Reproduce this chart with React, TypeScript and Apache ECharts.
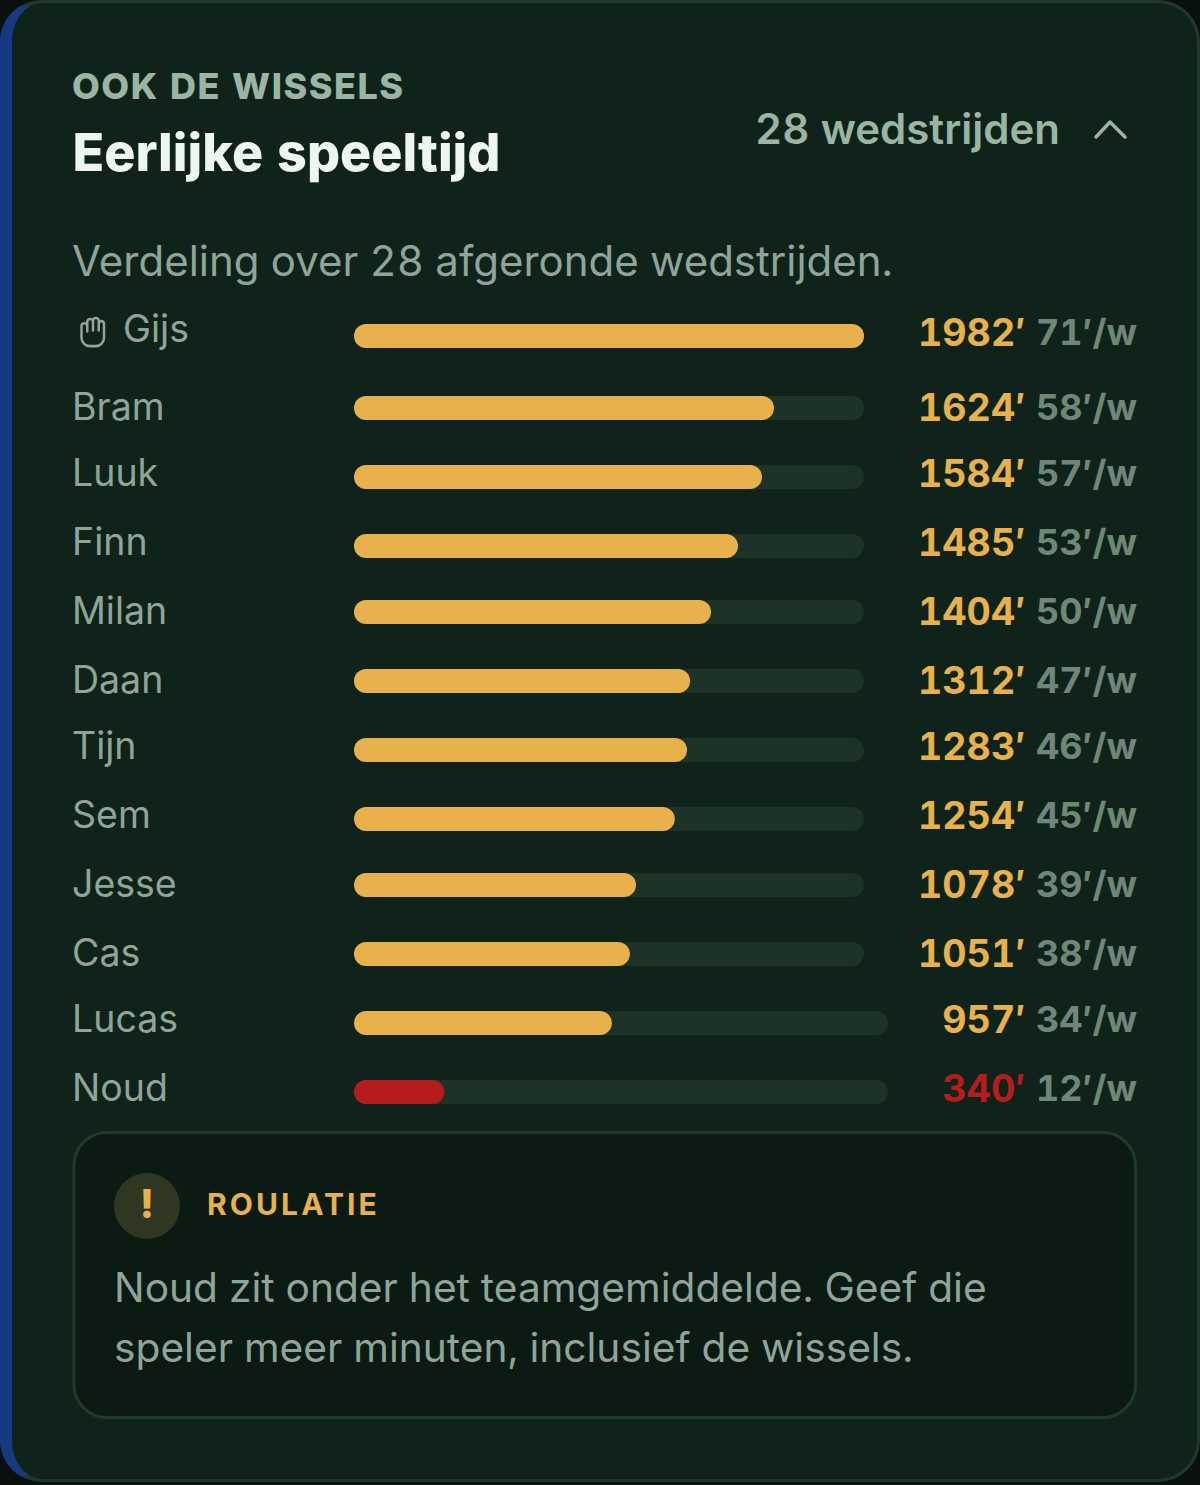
import React, { useEffect, useRef } from "react";
import * as echarts from "echarts";

const players = ["Gijs", "Bram", "Luuk", "Finn", "Milan", "Daan", "Tijn", "Sem", "Jesse", "Cas", "Lucas", "Noud"];
const minutes = [1982, 1624, 1584, 1485, 1404, 1312, 1283, 1254, 1078, 1051, 957, 340];
const perMatch = [71, 58, 57, 53, 50, 47, 46, 45, 39, 38, 34, 12];
// Bar fill as a share of its track, in percent.
const barShares = [100, 82.35, 80, 75.3, 70, 65.9, 65.3, 62.9, 55.3, 54.1, 48.3, 16.9];

const rowTops = [324, 396, 465, 534, 600, 669, 738, 807, 873, 942, 1011, 1080];
const trackWidths = [510, 510, 510, 510, 510, 510, 510, 510, 510, 510, 534, 534];
const nameLift = [7.5, 2, 5, 5, 2, 2, 5, 5, 2, 2, 5, 4.5];
const valueShift = [8, 11, 8, 8, 11, 11, 8, 8, 11, 11, 8, 8];

const GOLD = "#e8b14c";
const RED = "#b71c1c";
const TRACK = "#1e3328";
const CARD = "#10231a";
const BORDER = "#1f3a2c";
const MUTED = "#8fa59a";
const SAGE = "#9ab5a4";
const FONT = "Inter";

echarts.graphic.registerShape("cardInner", echarts.graphic.extendPath("M42 3H1158A39 39 0 0 1 1197 42V1440A39 39 0 0 1 1158 1479H42A30 39 0 0 1 12 1440V42A30 39 0 0 1 42 3Z", {}) as any);
echarts.graphic.registerShape("cardBlue", echarts.graphic.extendPath("M21.46 5.36A42 42 0 0 0 0 42V1440A42 42 0 0 0 21.46 1476.64L28.6 1474.85A30 39 0 0 1 12 1440V42A30 39 0 0 1 28.6 7.15Z", {}) as any);
echarts.graphic.registerShape("glove", echarts.graphic.extendPath("M1.5 19V8.5a2.9 2.9 0 0 1 5.75 0V14M7.25 13V4.5a2.9 2.9 0 0 1 5.75 0V13M13 13V3.5a2.9 2.9 0 0 1 5.75 0V13M18.75 13V6a2.7 2.7 0 0 1 5.25 0V20a8 8 0 0 1-8 8H9.5a8 8 0 0 1-8-8V19", {}) as any);

const buildOption = () => {
  const grids = players.map((_, i) => ({ left: 354, top: rowTops[i], width: trackWidths[i], height: 24, containLabel: false }));
  const xAxes = players.map((_, i) => ({ type: "value", gridIndex: i, min: 0, max: 100, show: false }));
  const yAxes = players.map((p, i) => ({
    type: "category",
    gridIndex: i,
    data: [p],
    axisLine: { show: false },
    axisTick: { show: false },
    axisLabel: {
      show: true,
      align: "left",
      verticalAlign: "bottom",
      lineHeight: nameLift[i] * 2,
      margin: i === 0 ? 231 : 282,
      color: MUTED,
      fontFamily: FONT,
      fontSize: 37.5,
    },
  }));
  const series = players.map((p, i) => ({
    type: "bar",
    name: p,
    xAxisIndex: i,
    yAxisIndex: i,
    data: [barShares[i]],
    barWidth: 24,
    showBackground: true,
    backgroundStyle: { color: TRACK, borderRadius: 12 },
    itemStyle: { color: minutes[i] < 500 ? RED : GOLD, borderRadius: 12 },
    silent: true,
  }));
  const T = (text: string, x: number, y: number, fontSize: number, fontWeight: any, fill: string, extra: any = {}) => ({
    type: "text",
    x,
    y,
    style: { text, fontFamily: FONT, fontSize, fontWeight, fill, textVerticalAlign: "middle", textAlign: "left", ...extra },
    z: 20,
  });
  const rowLabels: any[] = [];
  players.forEach((_, i) => {
    const y = rowTops[i] + valueShift[i];
    rowLabels.push(T(`${perMatch[i]}′/w`, 1137, y, 36, 700, "#6f8779", { textAlign: "right" }));
    rowLabels.push(T(`${minutes[i]}′`, 1025.5, y, 37.6, 700, minutes[i] < 500 ? RED : GOLD, { textAlign: "right" }));
  });
  return {
    animation: false,
    backgroundColor: "#0a100d",
    grid: grids,
    xAxis: xAxes,
    yAxis: yAxes,
    series,
    graphic: [
      { type: "rect", shape: { x: 0, y: 0, width: 1200, height: 1482, r: 42 }, style: { fill: BORDER }, z: -10, silent: true },
      { type: "cardBlue", style: { fill: "#163a82" }, z: -9, silent: true },
      { type: "cardInner", style: { fill: CARD }, z: -9, silent: true },
      T("OOK DE WISSELS", 72, 86, 36, 800, SAGE),
      T("Eerlijke speeltijd", 72.5, 152, 52, 800, "#edf6ef"),
      T("28 wedstrijden", 755, 128.5, 42, 600, SAGE),
      { type: "polyline", shape: { points: [[1096, 137], [1110, 122], [1125, 137]] }, style: { stroke: SAGE, lineWidth: 3.5, lineCap: "round", lineJoin: "round", fill: "none" }, z: 20 },
      T("Verdeling over 28 afgeronde wedstrijden.", 72, 260, 42, 400, MUTED),
      { type: "glove", x: 80, y: 317, scaleY: 1.04, style: { stroke: MUTED, lineWidth: 2.5, fill: "none", lineCap: "round", lineJoin: "round" }, z: 20 },
      ...rowLabels,
      { type: "rect", shape: { x: 74, y: 1132.5, width: 1061.5, height: 285, r: 33 }, style: { fill: "#0b1a13", stroke: BORDER, lineWidth: 3 }, z: 5 },
      { type: "circle", shape: { cx: 147, cy: 1206, r: 33 }, style: { fill: "#2f3622" }, z: 10 },
      T("!", 147, 1203, 40, 800, GOLD, { textAlign: "center" }),
      T("ROULATIE", 207, 1204, 30, 700, GOLD),
      T("Noud zit onder het teamgemiddelde. Geef die", 114, 1287, 40.7, 400, MUTED),
      T("speler meer minuten, inclusief de wissels.", 114, 1347, 40.7, 400, MUTED),
    ],
  };
};

const spacing: Record<string, string> = {
  "OOK DE WISSELS": "1.5px",
  "ROULATIE": "3.1px",
};

export default function App() {
  const ref = useRef<HTMLDivElement>(null);
  useEffect(() => {
    document.body.style.margin = "0";
    const chart = echarts.init(ref.current!, undefined, { renderer: "svg" });
    chart.setOption(buildOption() as any);
    ref.current!.querySelectorAll("text").forEach((t) => {
      const s = spacing[t.textContent || ""];
      if (s) (t as any).style.letterSpacing = s;
    });
    return () => chart.dispose();
  }, []);
  return <div ref={ref} style={{ width: 1200, height: 1485, fontFeatureSettings: '"tnum"' }} />;
}
